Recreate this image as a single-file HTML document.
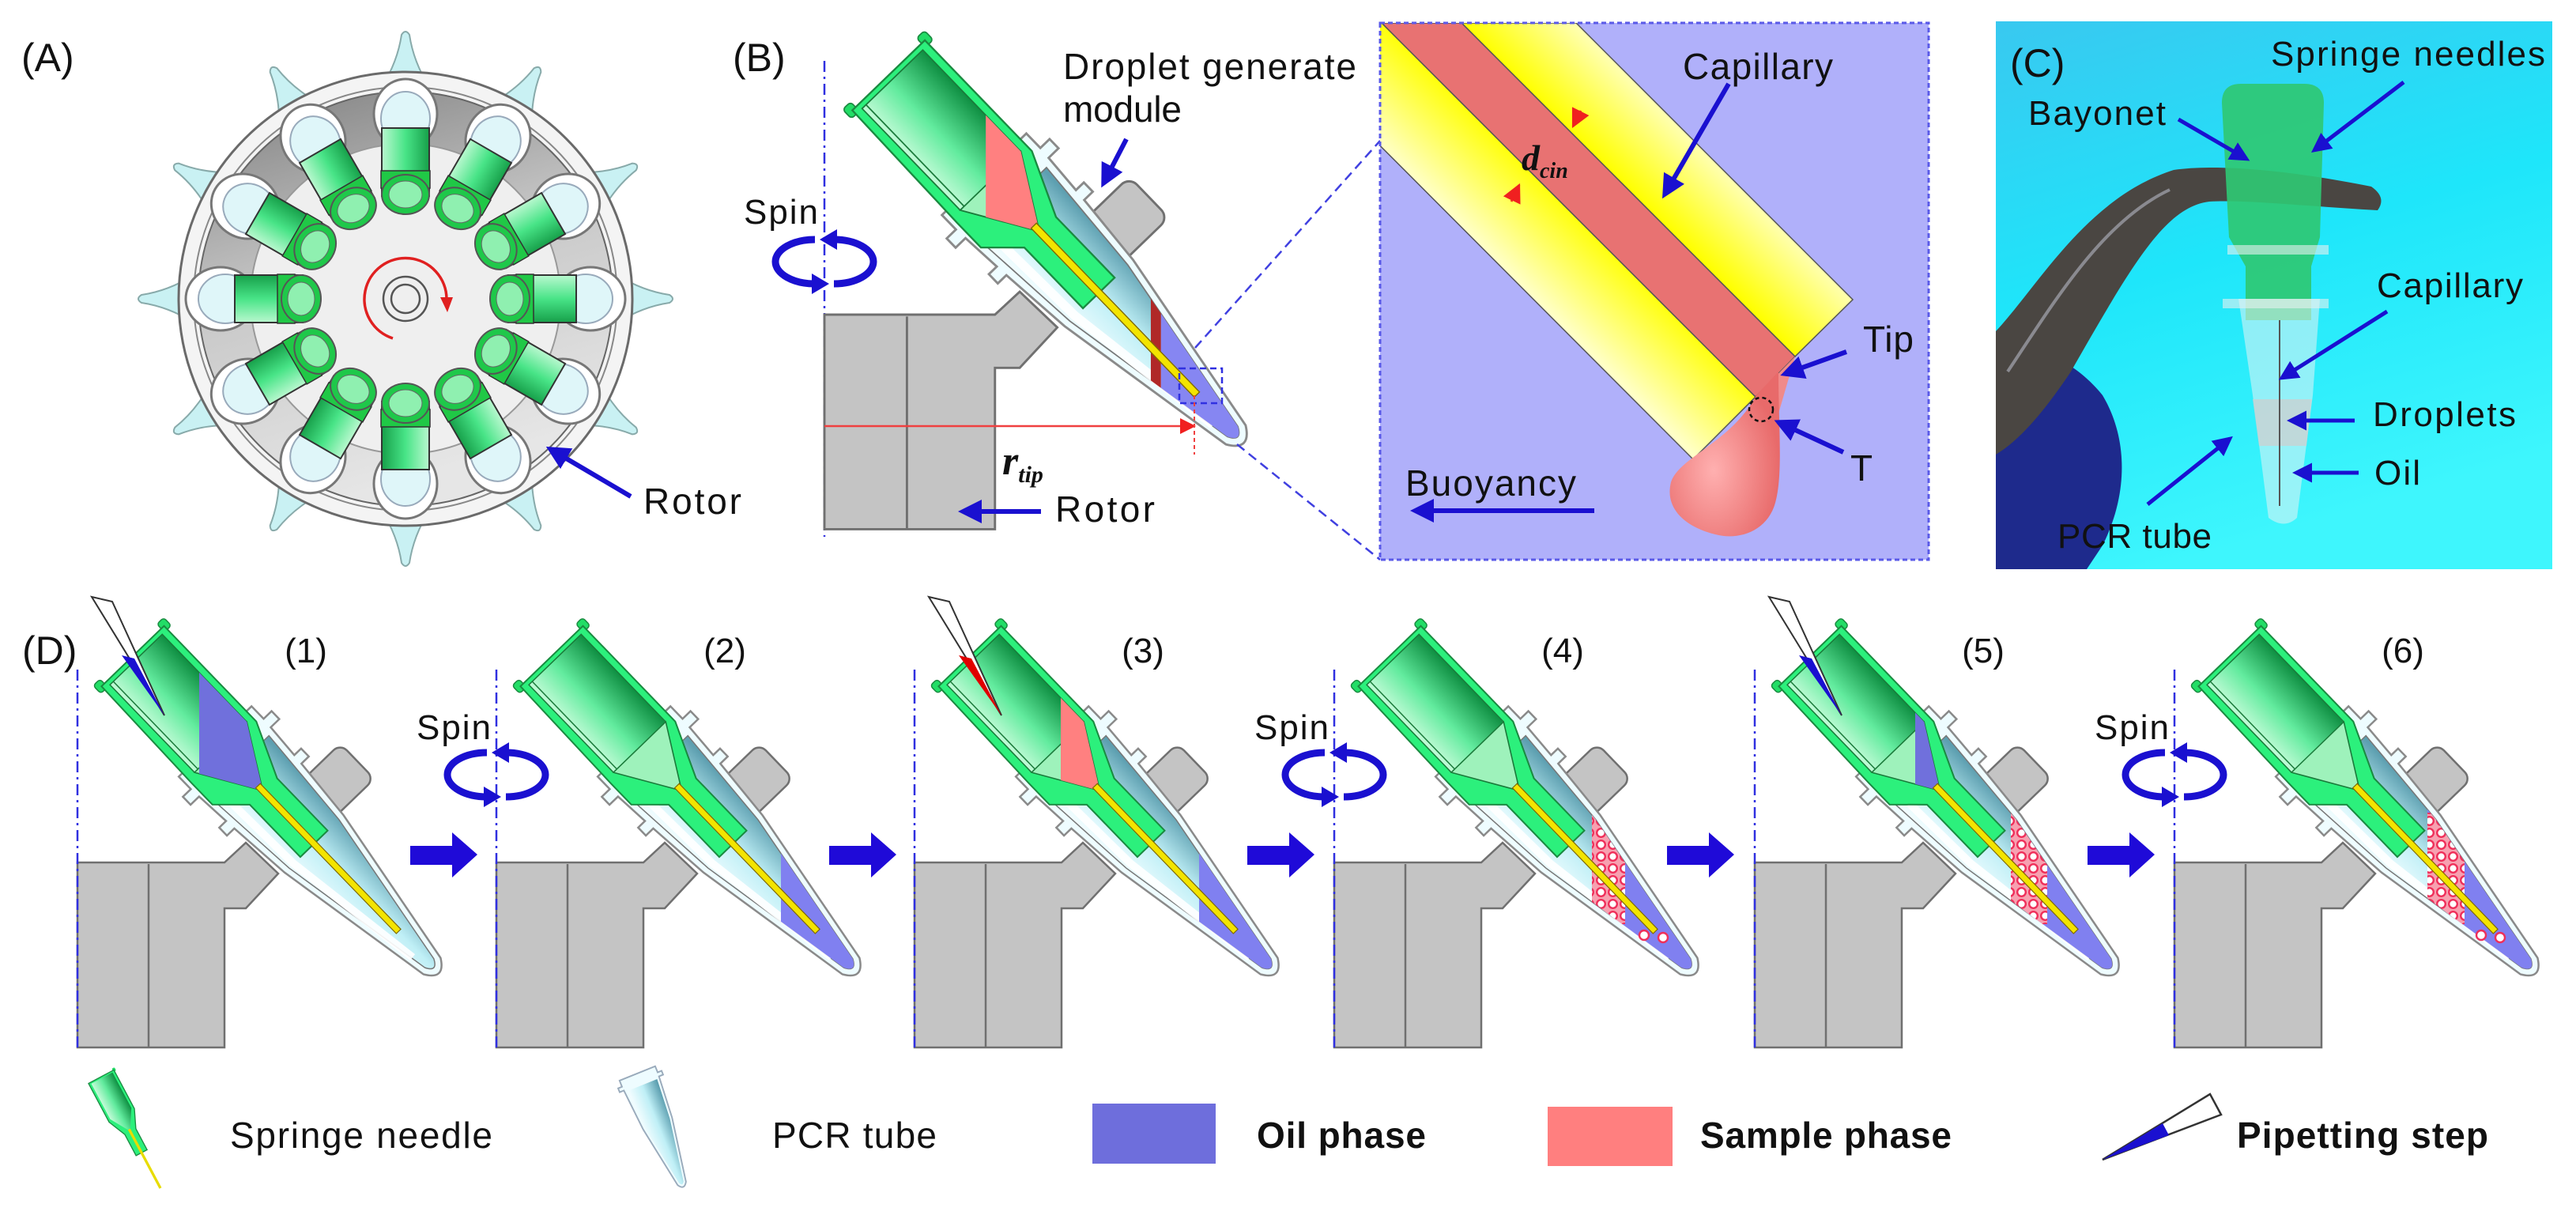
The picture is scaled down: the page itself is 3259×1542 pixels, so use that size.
<!DOCTYPE html>
<html><head><meta charset="utf-8"><style>
html,body{margin:0;padding:0;background:#fff;}
svg{display:block;}
text{font-family:"Liberation Sans",sans-serif;fill:#111;}
</style></head><body>
<svg width="3259" height="1542" viewBox="0 0 3259 1542" xmlns="http://www.w3.org/2000/svg" xmlns:xlink="http://www.w3.org/1999/xlink">
<defs>
 <linearGradient id="gHub" gradientUnits="userSpaceOnUse" x1="0" y1="46" x2="0" y2="-46">
  <stop offset="0" stop-color="#c4fbd8"/><stop offset="0.45" stop-color="#62eb9e"/><stop offset="1" stop-color="#0f8f42"/>
 </linearGradient>
 <linearGradient id="gTube" gradientUnits="userSpaceOnUse" x1="0" y1="50" x2="0" y2="-50">
  <stop offset="0" stop-color="#f2fdff"/><stop offset="0.5" stop-color="#bfeff6"/><stop offset="1" stop-color="#5d9fb0"/>
 </linearGradient>
 <linearGradient id="gCyl" x1="0" y1="0" x2="1" y2="0">
  <stop offset="0" stop-color="#b9f8cf"/><stop offset="0.5" stop-color="#48e487"/><stop offset="1" stop-color="#17a04a"/>
 </linearGradient>
 <linearGradient id="gRing" x1="0" y1="0" x2="0.3" y2="1">
  <stop offset="0" stop-color="#7e7e7e"/><stop offset="0.5" stop-color="#c8c8c8"/><stop offset="1" stop-color="#e6e6e6"/>
 </linearGradient>
 <linearGradient id="gYel" gradientUnits="userSpaceOnUse" x1="1800" y1="238" x2="2000" y2="35">
  <stop offset="0" stop-color="#ffffc8"/><stop offset="0.38" stop-color="#ffff10"/><stop offset="0.64" stop-color="#ffff00"/><stop offset="1" stop-color="#ffffb4"/>
 </linearGradient>
 <linearGradient id="gPhoto" x1="0" y1="0" x2="0.3" y2="1">
  <stop offset="0" stop-color="#39c8f0"/><stop offset="0.5" stop-color="#1ee6fa"/><stop offset="1" stop-color="#3ef6fd"/>
 </linearGradient>
 <radialGradient id="gDrop" cx="0.4" cy="0.6" r="0.6">
  <stop offset="0" stop-color="#ffb0b0"/><stop offset="1" stop-color="#e86a6a"/>
 </radialGradient>
 <pattern id="dp" width="15" height="15" patternUnits="userSpaceOnUse">
  <rect width="15" height="15" fill="#f7a0b0"/><circle cx="7.5" cy="7.5" r="5.3" fill="#fff" stroke="#ef2f5a" stroke-width="2.4"/>
 </pattern>
 <marker id="ab" viewBox="0 0 10 10" refX="8" refY="5" markerWidth="5" markerHeight="5" orient="auto"><path d="M0,0 L10,5 L0,10 z" fill="#1a10d0"/></marker>
 <marker id="ar" viewBox="0 0 10 10" refX="9" refY="5" markerWidth="8" markerHeight="8" orient="auto"><path d="M0,0 L10,5 L0,10 z" fill="#f02020"/></marker>
 <clipPath id="tc"><path transform="translate(70,-261) rotate(46)" d="M192,-54 L330,-44 L540,-8 Q556,0 540,8 L330,44 L192,54 Z"/></clipPath>
 <clipPath id="hc"><path transform="translate(70,-261) rotate(46)" d="M6,-46 L160,-46 L230,-4 L230,4 L160,46 L6,46 Z"/></clipPath>
 <clipPath id="boxc"><rect x="1746" y="29" width="694" height="679"/></clipPath>

 <g id="base">
  <polygon points="0,0 186,0 213,-25 254,14 213,58 186,58 186,234 0,234" fill="#c4c4c4" stroke="#707070" stroke-width="2.5"/>
  <line x1="90" y1="2" x2="90" y2="234" stroke="#707070" stroke-width="2.5"/>
  <g transform="translate(70,-261) rotate(46)">
   <rect x="262" y="-112" width="62" height="74" rx="12" fill="#c4c4c4" stroke="#707070" stroke-width="2.5"/>
   <path d="M150,-64 L172,-64 L172,-78 L186,-78 L186,-63 L232,-60 L232,-72 L246,-72 L246,-59 L330,-52 L545,-15 Q570,0 545,15 L330,52 L246,59 L246,72 L232,72 L232,60 L186,63 L186,78 L172,78 L172,64 L150,64 Z" fill="#eefcff" stroke="#8a8a8a" stroke-width="2.5"/>
   <path d="M192,-54 L330,-44 L540,-8 Q556,0 540,8 L330,44 L192,54 Z" fill="url(#gTube)" stroke="#777" stroke-width="1.5"/>
   <path d="M192,40 L330,36 L520,10" fill="none" stroke="#fff" stroke-width="10" opacity="0.9"/>
  </g>
 </g>
 <g id="needle">
  <g transform="translate(70,-261) rotate(46)">
   <rect x="-8" y="-62" width="14" height="12" rx="4" fill="#22dd66" stroke="#1a8a40" stroke-width="1.5"/>
   <rect x="-8" y="50" width="14" height="12" rx="4" fill="#22dd66" stroke="#1a8a40" stroke-width="1.5"/>
   <path d="M0,-55 L168,-55 L238,-24 L330,-24 L330,24 L238,24 L205,58 L168,58 L0,55 Z" fill="#2cf07c" stroke="#1a8a40" stroke-width="2"/>
   <path d="M6,-46 L160,-46 L230,-4 L230,4 L160,46 L6,46 Z" fill="url(#gHub)" stroke="#1a7a3a" stroke-width="1.5"/>
   <path d="M160,-46 L230,-4 L230,4 L160,46 Z" fill="#9ef2bb" stroke="#1a7a3a" stroke-width="1.5"/>
   <line x1="6" y1="40" x2="160" y2="40" stroke="#1a7a3a" stroke-width="1.5"/>
  </g>
 </g>
 <g id="cap">
  <g transform="translate(70,-261) rotate(46)">
   <rect x="228" y="-4" width="256" height="8" fill="#f3e400" stroke="#806a00" stroke-width="1.2"/>
  </g>
 </g>
 <g id="spinA">
  <path d="M-12,-28 A50,28 0 0 0 -12,28" fill="none" stroke="#1a10d0" stroke-width="9"/>
  <polygon points="-16,15 -16,41 6,28" fill="#1a10d0"/>
  <path d="M12,28 A50,28 0 0 0 12,-28" fill="none" stroke="#1a10d0" stroke-width="9"/>
  <polygon points="16,-15 16,-41 -6,-28" fill="#1a10d0"/>
 </g>
 <polygon id="barrow" points="421,-21 474,-21 474,-38 506,-10 474,19 474,3 421,3" fill="#1f0ad8"/>
 <line id="dash" x1="0" y1="-244" x2="0" y2="234" stroke="#3030e0" stroke-width="2.5" stroke-dasharray="14 6 3 6"/>

 <g id="spike"><path d="M-30,-268 Q-10,-300 -5,-334 Q0,-342 5,-334 Q10,-300 30,-268 Z" fill="#c9f1f3" stroke="#8aa" stroke-width="2"/></g>
 <g id="rt">
  <ellipse cx="0" cy="-234" rx="40" ry="44" fill="#fff" stroke="#777" stroke-width="3"/>
  <ellipse cx="0" cy="-228" rx="31" ry="34" fill="#dff6f9" stroke="#9ab" stroke-width="2"/>
  <rect x="-30" y="-216" width="60" height="86" fill="url(#gCyl)" stroke="#333" stroke-width="2"/>
  <rect x="-31" y="-162" width="62" height="22" fill="#20c846" stroke="#333" stroke-width="1.5"/>
  <ellipse cx="0" cy="-132" rx="30" ry="25" fill="#1fc84a" stroke="#555" stroke-width="2"/>
  <ellipse cx="0" cy="-132" rx="21" ry="17" fill="#8ff0b0" stroke="#666" stroke-width="1"/>
 </g>
</defs>

<!-- ===== Panel A ===== -->
<text x="27" y="90" font-size="50">(A)</text>
<g transform="translate(513,378)">
 <use href="#spike"/><use href="#spike" transform="rotate(30)"/><use href="#spike" transform="rotate(60)"/><use href="#spike" transform="rotate(90)"/><use href="#spike" transform="rotate(120)"/><use href="#spike" transform="rotate(150)"/><use href="#spike" transform="rotate(180)"/><use href="#spike" transform="rotate(210)"/><use href="#spike" transform="rotate(240)"/><use href="#spike" transform="rotate(270)"/><use href="#spike" transform="rotate(300)"/><use href="#spike" transform="rotate(330)"/>
 <circle r="287" fill="#f4f4f4" stroke="#6a6a6a" stroke-width="3"/>
 <circle r="268" fill="none" stroke="#888" stroke-width="2"/>
 <circle r="262" fill="url(#gRing)" stroke="#666" stroke-width="2"/>
 <circle r="196" fill="#efefef" stroke="#999" stroke-width="2"/>
 <use href="#rt"/><use href="#rt" transform="rotate(30)"/><use href="#rt" transform="rotate(60)"/><use href="#rt" transform="rotate(90)"/><use href="#rt" transform="rotate(120)"/><use href="#rt" transform="rotate(150)"/><use href="#rt" transform="rotate(180)"/><use href="#rt" transform="rotate(210)"/><use href="#rt" transform="rotate(240)"/><use href="#rt" transform="rotate(270)"/><use href="#rt" transform="rotate(300)"/><use href="#rt" transform="rotate(330)"/>
 <circle r="28" fill="none" stroke="#555" stroke-width="2.5"/>
 <circle r="18" fill="none" stroke="#555" stroke-width="2.5"/>
 <path d="M-16,50 A52,52 0 1 1 52,0" fill="none" stroke="#e02020" stroke-width="3.5"/>
 <polygon points="44,-2 60,-2 53,17" fill="#e02020"/>
</g>
<line x1="798" y1="628" x2="696" y2="568" stroke="#1a10d0" stroke-width="6" marker-end="url(#ab)"/>
<text x="814" y="650" font-size="46" textLength="124">Rotor</text>

<!-- ===== Panel B ===== -->
<text x="927" y="90" font-size="50">(B)</text>
<line x1="1043" y1="77" x2="1043" y2="679" stroke="#3030e0" stroke-width="2.5" stroke-dasharray="14 6 3 6"/>
<g transform="translate(1043,398) scale(1.16)">
 <use href="#base"/>
 <g clip-path="url(#tc)">
  <rect x="367" y="-150" width="200" height="400" fill="#8686f2"/>
  <rect x="356" y="-27" width="11" height="110" fill="#b02828"/>
 </g>
 <use href="#needle"/>
 <g clip-path="url(#hc)"><rect x="176" y="-400" width="200" height="400" fill="#ff8080"/></g>
 <use href="#cap"/>
</g>
<rect x="1492" y="466" width="54" height="44" fill="none" stroke="#3030e0" stroke-width="2.5" stroke-dasharray="8 5"/>
<line x1="1043" y1="539" x2="1511" y2="539" stroke="#f04040" stroke-width="2.5" marker-end="url(#ar)"/>
<line x1="1511" y1="500" x2="1511" y2="575" stroke="#f04040" stroke-width="2" stroke-dasharray="5 4"/>
<text x="1268" y="600" font-size="52" font-family="Liberation Serif" font-style="italic" font-weight="bold" style="font-family:'Liberation Serif',serif">r<tspan font-size="30" dy="10">tip</tspan></text>
<line x1="1317" y1="647" x2="1218" y2="647" stroke="#1a10d0" stroke-width="6" marker-end="url(#ab)"/>
<text x="1335" y="660" font-size="46" textLength="126">Rotor</text>
<text x="1345" y="100" font-size="46" textLength="371">Droplet generate</text>
<text x="1345" y="154" font-size="46" textLength="150">module</text>
<line x1="1425" y1="176" x2="1396" y2="232" stroke="#1a10d0" stroke-width="6" marker-end="url(#ab)"/>
<text x="941" y="283" font-size="44" textLength="94">Spin</text>
<use href="#spinA" transform="translate(1043,331)"/>
<line x1="1512" y1="440" x2="1746" y2="178" stroke="#4040e0" stroke-width="2.5" stroke-dasharray="12 7"/>
<line x1="1565" y1="562" x2="1746" y2="708" stroke="#4040e0" stroke-width="2.5" stroke-dasharray="12 7"/>

<!-- inset -->
<rect x="1746" y="29" width="694" height="679" fill="#b0b0fa"/>
<g clip-path="url(#boxc)">
 <polygon points="1591,29 1748,29 2221,502 2142,581" fill="url(#gYel)" stroke="#555" stroke-width="1.5"/>
 <polygon points="1849,29 1994,29 2344,379 2271,451" fill="url(#gYel)" stroke="#555" stroke-width="1.5"/>
 <polygon points="1748,29 1849,29 2271,451 2221,502" fill="#e87272" stroke="#555" stroke-width="1.5"/>
 <polygon points="2221,502 2271,451 2248,530" fill="#f08a8a"/>
 <path d="M2222,500 L2250,470 C2250,540 2256,600 2246,636 C2236,672 2200,684 2170,676 C2130,666 2106,642 2114,610 C2124,578 2190,560 2222,500 Z" fill="url(#gDrop)"/>
</g>
<rect x="1746" y="29" width="694" height="679" fill="none" stroke="#5a5ae8" stroke-width="3" stroke-dasharray="6 4"/>
<circle cx="2228" cy="518" r="15" fill="none" stroke="#111" stroke-width="2.5" stroke-dasharray="5 4"/>
<text x="2129" y="100" font-size="46" textLength="190">Capillary</text>
<line x1="2187" y1="106" x2="2106" y2="246" stroke="#1a10d0" stroke-width="6" marker-end="url(#ab)"/>
<text x="2357" y="445" font-size="46" textLength="64">Tip</text>
<line x1="2336" y1="445" x2="2258" y2="473" stroke="#1a10d0" stroke-width="6" marker-end="url(#ab)"/>
<text x="2341" y="608" font-size="46">T</text>
<line x1="2332" y1="572" x2="2250" y2="534" stroke="#1a10d0" stroke-width="6" marker-end="url(#ab)"/>
<text x="1778" y="627" font-size="46" textLength="216">Buoyancy</text>
<line x1="2017" y1="646" x2="1790" y2="646" stroke="#1a10d0" stroke-width="6" marker-end="url(#ab)"/>
<text x="1925" y="215" font-size="46" font-style="italic" font-weight="bold" style="font-family:'Liberation Serif',serif">d<tspan font-size="28" dy="10">cin</tspan></text>
<line x1="2000" y1="140" x2="1990" y2="160" stroke="#f04020" stroke-width="3" marker-end="url(#ar)"/>
<line x1="1912" y1="255" x2="1922" y2="234" stroke="#f04020" stroke-width="3" marker-end="url(#ar)"/>

<!-- ===== Panel C photo ===== -->
<rect x="2525" y="27" width="704" height="693" fill="url(#gPhoto)"/>
<path d="M2525,445 C2560,430 2620,450 2660,500 C2690,550 2695,620 2660,690 L2640,720 L2525,720 Z" fill="#1e2a8c"/>
<path d="M2525,419 C2580,360 2640,250 2750,215 C2820,205 2930,222 3000,236 Q3020,250 3008,266 C2930,262 2840,252 2795,255 C2740,262 2700,330 2620,470 C2580,530 2550,560 2525,575 Z" fill="#4a4642"/>
<path d="M2540,470 C2600,380 2660,280 2745,240" fill="none" stroke="#8a8a90" stroke-width="4"/>
<path d="M2811,130 Q2811,106 2835,106 L2915,106 Q2940,106 2940,130 L2935,300 L2924,337 L2924,405 L2841,405 L2841,337 L2820,300 Z" fill="#2fc873" opacity="0.92"/>
<path d="M2832,378 L2935,378 L2926,500 L2906,655 Q2890,670 2870,655 L2850,500 Z" fill="#e6f3f4" opacity="0.55"/>
<path d="M2850,505 L2925,505 L2918,564 L2858,564 Z" fill="#c9d2d2" opacity="0.8"/>
<line x1="2884" y1="405" x2="2884" y2="640" stroke="#555" stroke-width="2"/>
<rect x="2818" y="310" width="128" height="12" fill="#e8f0f0" opacity="0.6"/>
<rect x="2812" y="378" width="134" height="12" fill="#e8f0f0" opacity="0.6"/>
<text x="2543" y="97" font-size="50">(C)</text>
<text x="2873" y="83" font-size="44" textLength="347">Springe needles</text>
<text x="2566" y="158" font-size="44" textLength="174">Bayonet</text>
<text x="3007" y="376" font-size="44" textLength="185">Capillary</text>
<text x="3002" y="539" font-size="44" textLength="181">Droplets</text>
<text x="3004" y="613" font-size="44" textLength="58">Oil</text>
<text x="2603" y="693" font-size="44" textLength="195">PCR tube</text>
<line x1="2756" y1="151" x2="2842" y2="201" stroke="#1a10d0" stroke-width="5" marker-end="url(#ab)"/>
<line x1="3041" y1="104" x2="2928" y2="190" stroke="#1a10d0" stroke-width="5" marker-end="url(#ab)"/>
<line x1="3020" y1="394" x2="2887" y2="478" stroke="#1a10d0" stroke-width="5" marker-end="url(#ab)"/>
<line x1="2979" y1="532" x2="2898" y2="532" stroke="#1a10d0" stroke-width="5" marker-end="url(#ab)"/>
<line x1="2984" y1="598" x2="2905" y2="598" stroke="#1a10d0" stroke-width="5" marker-end="url(#ab)"/>
<line x1="2717" y1="638" x2="2821" y2="555" stroke="#1a10d0" stroke-width="5" marker-end="url(#ab)"/>

<!-- ===== Panel D ===== -->
<text x="28" y="840" font-size="50">(D)</text>

<!-- unit 1 -->
<g transform="translate(98,1091)">
 <use href="#base"/>
 <use href="#needle"/>
 <g clip-path="url(#hc)"><rect x="154" y="-400" width="200" height="400" fill="#7070dc"/></g>
 <use href="#cap"/>
 <polygon points="18,-336 44,-330 110,-186" fill="#fff" stroke="#333" stroke-width="2"/>
 <polygon points="56,-262 72,-258 110,-186" fill="#1a10d0"/>
 <use href="#dash"/>
 <text x="289" y="-253" font-size="44" text-anchor="middle">(1)</text>
 <use href="#barrow"/>
</g>
<!-- unit 2 -->
<g transform="translate(628,1091)">
 <use href="#base"/>
 <g clip-path="url(#tc)"><rect x="360" y="-150" width="200" height="400" fill="#8080f0"/></g>
 <use href="#needle"/>
 <use href="#cap"/>
 <use href="#dash"/>
 <text x="289" y="-253" font-size="44" text-anchor="middle">(2)</text>
 <text x="-101" y="-156" font-size="44" textLength="94">Spin</text>
 <use href="#spinA" transform="translate(0,-111)"/>
 <use href="#barrow"/>
</g>
<!-- unit 3 -->
<g transform="translate(1157,1091)">
 <use href="#base"/>
 <g clip-path="url(#tc)"><rect x="360" y="-150" width="200" height="400" fill="#8080f0"/></g>
 <use href="#needle"/>
 <g clip-path="url(#hc)"><rect x="185" y="-400" width="200" height="400" fill="#ff8080"/></g>
 <use href="#cap"/>
 <polygon points="18,-336 44,-330 110,-186" fill="#fff" stroke="#333" stroke-width="2"/>
 <polygon points="56,-262 72,-258 110,-186" fill="#e00000"/>
 <use href="#dash"/>
 <text x="289" y="-253" font-size="44" text-anchor="middle">(3)</text>
 <use href="#barrow"/>
</g>
<!-- unit 4 -->
<g transform="translate(1688,1091)">
 <use href="#base"/>
 <g clip-path="url(#tc)">
  <rect x="326" y="-150" width="220" height="400" fill="#8080f0"/>
  <rect x="326" y="-63" width="42" height="141" fill="url(#dp)"/>
 </g>
 <circle cx="392" cy="92" r="6" fill="#fff" stroke="#ef2f5a" stroke-width="2.4"/>
 <circle cx="416" cy="95" r="6" fill="#fff" stroke="#ef2f5a" stroke-width="2.4"/>
 <use href="#needle"/>
 <use href="#cap"/>
 <use href="#dash"/>
 <text x="289" y="-253" font-size="44" text-anchor="middle">(4)</text>
 <text x="-101" y="-156" font-size="44" textLength="94">Spin</text>
 <use href="#spinA" transform="translate(0,-111)"/>
 <use href="#barrow"/>
</g>
<!-- unit 5 -->
<g transform="translate(2220,1091)">
 <use href="#base"/>
 <g clip-path="url(#tc)">
  <rect x="324" y="-150" width="220" height="400" fill="#8080f0"/>
  <rect x="324" y="-63" width="46" height="141" fill="url(#dp)"/>
 </g>
 <use href="#needle"/>
 <g clip-path="url(#hc)"><rect x="203" y="-400" width="200" height="400" fill="#7070dc"/></g>
 <use href="#cap"/>
 <polygon points="18,-336 44,-330 110,-186" fill="#fff" stroke="#333" stroke-width="2"/>
 <polygon points="56,-262 72,-258 110,-186" fill="#1a10d0"/>
 <use href="#dash"/>
 <text x="289" y="-253" font-size="44" text-anchor="middle">(5)</text>
 <use href="#barrow"/>
</g>
<!-- unit 6 -->
<g transform="translate(2751,1091)">
 <use href="#base"/>
 <g clip-path="url(#tc)">
  <rect x="320" y="-150" width="220" height="400" fill="#8080f0"/>
  <rect x="320" y="-63" width="47" height="141" fill="url(#dp)"/>
 </g>
 <circle cx="388" cy="92" r="6" fill="#fff" stroke="#ef2f5a" stroke-width="2.4"/>
 <circle cx="412" cy="95" r="6" fill="#fff" stroke="#ef2f5a" stroke-width="2.4"/>
 <use href="#needle"/>
 <use href="#cap"/>
 <use href="#dash"/>
 <text x="289" y="-253" font-size="44" text-anchor="middle">(6)</text>
 <text x="-101" y="-156" font-size="44" textLength="94">Spin</text>
 <use href="#spinA" transform="translate(0,-111)"/>
</g>

<!-- legend -->
<g transform="translate(128,1362) rotate(62) scale(0.33)">
 <rect x="-8" y="-62" width="14" height="12" rx="4" fill="#22dd66"/>
 <path d="M0,-55 L168,-55 L238,-24 L330,-24 L330,24 L238,24 L168,55 L0,55 Z" fill="#2cf07c" stroke="#1a8a40" stroke-width="4"/>
 <path d="M6,-46 L160,-46 L230,-4 L230,4 L160,46 L6,46 Z" fill="url(#gHub)"/>
 <rect x="228" y="-5" width="256" height="10" fill="#e8dc00"/>
</g>
<g transform="translate(785,1305) rotate(68) scale(0.38)">
 <path d="M150,-64 L172,-64 L172,-78 L186,-78 L186,-63 L330,-52 L545,-15 Q570,0 545,15 L330,52 L186,63 L186,78 L172,78 L172,64 L150,64 Z" fill="#eefcff" stroke="#9ab" stroke-width="5"/>
 <path d="M192,-54 L330,-44 L540,-8 Q556,0 540,8 L330,44 L192,54 Z" fill="url(#gTube)"/>
</g>
<text x="291" y="1452" font-size="46" textLength="332">Springe needle</text>
<text x="977" y="1452" font-size="46" textLength="208">PCR tube</text>
<rect x="1382" y="1396" width="156" height="76" fill="#6e6edc"/>
<text x="1590" y="1452" font-size="46" font-weight="bold" textLength="214">Oil phase</text>
<rect x="1958" y="1400" width="158" height="75" fill="#ff7f7f"/>
<text x="2151" y="1452" font-size="46" font-weight="bold" textLength="318">Sample phase</text>
<polygon points="2660,1467 2796,1384 2810,1410" fill="#fff" stroke="#333" stroke-width="2.5"/>
<polygon points="2660,1467 2736,1421 2744,1436" fill="#1a10d0"/>
<text x="2830" y="1452" font-size="46" font-weight="bold" textLength="318">Pipetting step</text>
</svg>
</body></html>
